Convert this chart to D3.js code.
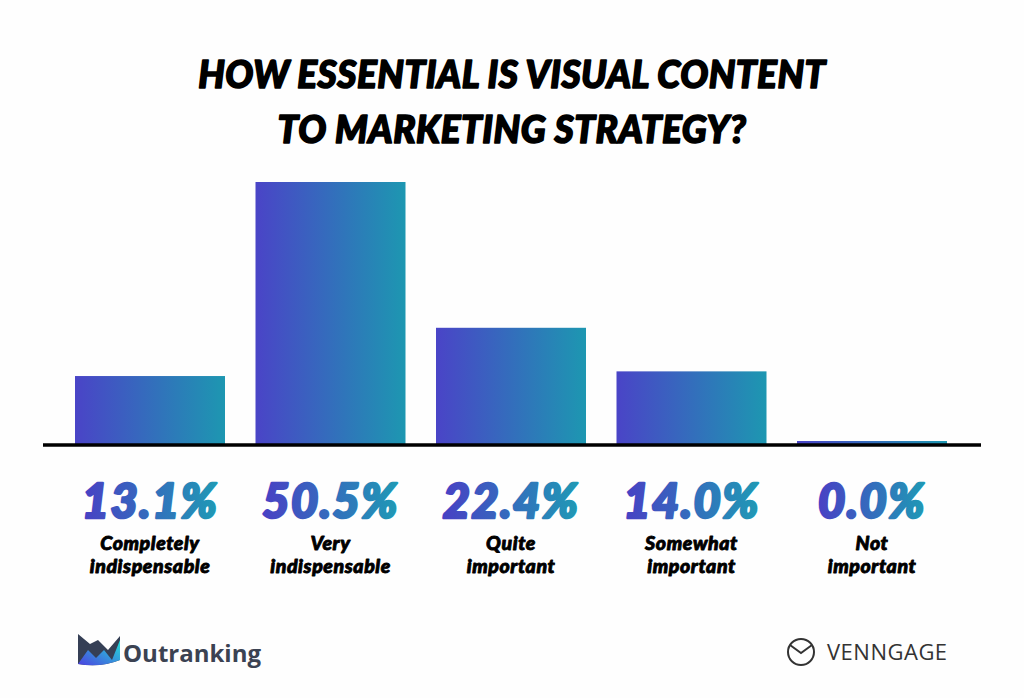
<!DOCTYPE html>
<html><head><meta charset="utf-8">
<script src="https://cdn.jsdelivr.net/npm/d3@7"></script>
<style>
html,body{margin:0;padding:0;background:#fff;}
svg{display:block;}
</style></head>
<body>
<svg id="chart" width="1024" height="698"></svg>
<script>
const titleLines = ["HOW ESSENTIAL IS VISUAL CONTENT", "TO MARKETING STRATEGY?"];
const categories = ["Completely indispensable", "Very indispensable", "Quite important", "Somewhat important", "Not important"];
const labelLines = [["Completely","indispensable"],["Very","indispensable"],["Quite","important"],["Somewhat","important"],["Not","important"]];
const values = [13.1, 50.5, 22.4, 14.0, 0.0];
const valueLabels = ["13.1%", "50.5%", "22.4%", "14.0%", "0.0%"];

const svg = d3.select("#chart");
const W = 1024, H = 698;
svg.append("rect").attr("width", W).attr("height", H).attr("fill", "#fefefe");

const defs = svg.append("defs");
const grad = defs.append("linearGradient").attr("id","barGrad").attr("x1","0").attr("x2","1").attr("y1","0").attr("y2","0");
grad.append("stop").attr("offset","0%").attr("stop-color","#4a44c7");
grad.append("stop").attr("offset","100%").attr("stop-color","#1d97b1");
const grad2 = defs.append("linearGradient").attr("id","textGrad").attr("x1","0").attr("x2","1").attr("y1","0").attr("y2","0");
grad2.append("stop").attr("offset","0%").attr("stop-color","#4840c4");
grad2.append("stop").attr("offset","100%").attr("stop-color","#1f9ab5");
const grad3 = defs.append("linearGradient").attr("id","logoGrad").attr("x1","0").attr("x2","1").attr("y1","1").attr("y2","0");
grad3.append("stop").attr("offset","0%").attr("stop-color","#4b3fe0");
grad3.append("stop").attr("offset","100%").attr("stop-color","#22e0d8");

const heavy = "Lato, 'Open Sans', sans-serif";

// Title
svg.append("g").selectAll("text").data(titleLines).join("text")
  .attr("x", 512).attr("y", (d,i) => 88 + i*55)
  .attr("text-anchor","middle")
  .attr("font-family", heavy)
  .attr("font-weight", 900).attr("font-style","italic")
  .attr("font-size", 37).attr("fill","#000")
  .attr("stroke","#000").attr("stroke-width",1.6).attr("stroke-linejoin","round")
  .attr("letter-spacing", 0.5)
  .text(d => d);

const x = d3.scaleBand().domain(categories).range([75, 947]).paddingInner(0.169).paddingOuter(0);
const y = d3.scaleLinear().domain([0, 50.5]).range([444, 182]);

svg.append("g").selectAll("rect").data(values).join("rect")
  .attr("x", (d,i) => x(categories[i]))
  .attr("width", x.bandwidth())
  .attr("y", d => Math.min(y(d), y(0) - 3))
  .attr("height", d => Math.max(y(0) - y(d), 3))
  .attr("fill","url(#barGrad)");

// baseline
const xAxis = d3.axisBottom(x).tickSize(0).tickFormat("");
const axisG = svg.append("g").attr("transform", `translate(0,${y(0)})`).call(xAxis);
axisG.select(".domain").remove();
svg.append("line").attr("x1", 43).attr("x2", 981).attr("y1", y(0)+1).attr("y2", y(0)+1)
  .attr("stroke","#000").attr("stroke-width",3.5);

// value labels
svg.append("g").selectAll("text").data(valueLabels).join("text")
  .attr("x", (d,i) => x(categories[i]) + x.bandwidth()/2)
  .attr("y", 518)
  .attr("text-anchor","middle")
  .attr("font-family", heavy)
  .attr("font-weight", 900).attr("font-style","italic")
  .attr("font-size", 47).attr("fill","url(#textGrad)")
  .attr("stroke","url(#textGrad)").attr("stroke-width",2.6).attr("stroke-linejoin","round")
  .attr("letter-spacing", 1.5)
  .text(d => d);

// category labels
const cg = svg.append("g");
labelLines.forEach((lines, i) => {
  cg.append("text")
    .attr("x", x(categories[i]) + x.bandwidth()/2)
    .attr("text-anchor","middle")
    .attr("font-family", heavy)
    .attr("font-weight", 900).attr("font-style","italic")
    .attr("font-size", 19.5).attr("fill","#000")
    .attr("stroke","#000").attr("stroke-width",0.9).attr("stroke-linejoin","round")
    .attr("letter-spacing", 0.6)
    .selectAll("tspan").data(lines).join("tspan")
    .attr("x", x(categories[i]) + x.bandwidth()/2)
    .attr("y", (d,j) => 550 + j*23)
    .text(d => d);
});

// Outranking logo
const lg = svg.append("g");
lg.append("path").attr("d","M78,634 L90,644 L98,640 L108,650 L120,636 L120,660 Q100,668 78,664 Z").attr("fill","#353f55");
lg.append("path").attr("d","M78,664 L88,650 L96,658 L104,650 L112,660 L120,640 L120,660 Q100,668 78,664 Z").attr("fill","url(#logoGrad)");
lg.append("text").attr("x",123).attr("y",662)
  .attr("font-family","'Open Sans', Lato, sans-serif").attr("font-weight",700)
  .attr("font-size",24).attr("fill","#3b4252").text("Outranking");

// Venngage logo
const vg = svg.append("g");
vg.append("circle").attr("cx",801).attr("cy",652).attr("r",13).attr("fill","none").attr("stroke","#333").attr("stroke-width",2);
vg.append("path").attr("d","M790,645 L801,653 L812,645").attr("fill","none").attr("stroke","#333").attr("stroke-width",2);
vg.append("text").attr("x",827).attr("y",660)
  .attr("font-family","'Open Sans', Lato, sans-serif").attr("font-weight",400)
  .attr("font-size",22).attr("fill","#333").attr("letter-spacing",0.5).text("VENNGAGE");
</script>
</body></html>
